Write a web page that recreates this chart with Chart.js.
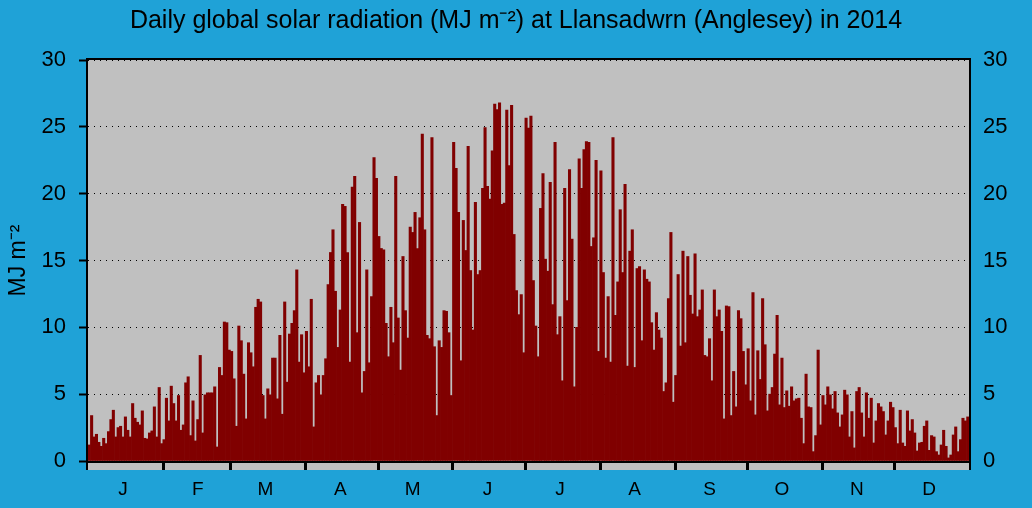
<!DOCTYPE html>
<html>
<head>
<meta charset="utf-8">
<script src="https://cdn.jsdelivr.net/npm/chart.js@4.4.1/dist/chart.umd.min.js"></script>
<style>
  html, body { margin: 0; padding: 0; background: #1fa2d7; }
  #wrap { width: 1032px; height: 508px; }
</style>
</head>
<body>
<div id="wrap"><canvas id="c" width="1032" height="508"></canvas></div>
<script>
// Daily global solar radiation (MJ m-2), Llansadwrn 2014, one array per month
const jan = [1.2,3.4,1.8,2.0,1.4,1.1,1.7,1.3,2.2,3.1,3.8,1.8,2.5,2.6,1.8,3.3,2.3,1.8,4.3,3.2,2.9,2.7,3.75,1.7,1.65,2.1,2.25,4.05,1.8,5.5,1.3];
const feb = [1.6,4.7,3.0,5.6,4.3,3.0,4.9,2.3,2.7,5.85,6.3,1.9,4.5,1.5,3.1,7.9,2.1,4.95,5.1,5.1,5.1,5.55,1.05,7.0,6.4,10.4,10.35,8.3];
const mar = [8.2,6.15,2.6,10.1,9.0,6.5,3.15,8.85,8.1,7.05,11.5,12.1,11.9,4.9,3.15,5.4,4.95,7.7,7.7,4.65,9.4,3.5,11.9,5.9,9.5,10.3,11.25,14.3,7.4,9.45,6.6];
const apr = [9.7,7.05,12.1,2.55,5.85,6.4,4.95,6.4,7.65,13.2,15.6,17.3,12.7,8.5,11.3,19.2,19.05,15.6,7.4,20.5,21.3,9.6,17.85,5.1,6.7,14.3,7.35,12.3,22.7,21.15];
const may = [16.8,15.9,15.8,10.3,7.8,11.5,8.85,21.3,10.7,6.8,15.3,11.25,9.2,17.5,17.1,18.6,15.9,18.2,24.45,17.3,9.4,9.15,24.2,8.55,3.4,9.0,8.5,11.25,11.2,9.6,4.9];
const jun = [23.85,21.9,18.6,7.5,18.0,15.75,23.55,14.25,9.8,19.35,13.95,14.25,20.4,24.95,20.55,19.6,23.2,26.7,26.3,26.8,19.2,19.3,26.25,22.1,26.6,16.95,12.75,10.95,12.45,8.1];
const jul = [25.65,24.9,25.8,13.5,10.1,7.8,18.9,21.5,15.1,14.2,20.85,11.7,23.85,9.45,10.8,6.0,20.4,12.0,21.8,16.6,5.55,10.0,22.6,20.4,23.3,23.9,23.85,16.05,16.7,22.5,8.2];
const aug = [21.7,14.1,7.7,12.3,7.4,24.2,10.9,13.4,18.8,14.1,20.7,7.1,15.7,17.3,7.0,14.4,14.55,9.0,14.3,13.6,13.4,10.35,8.3,11.1,9.8,9.2,5.2,5.85,12.15,17.1,4.4];
const sep = [6.4,13.95,8.6,15.7,8.85,15.3,12.4,11.0,15.5,10.8,11.3,12.8,7.9,7.8,9.15,6.0,12.8,10.8,11.3,9.7,3.15,11.6,11.55,3.4,6.7,4.05,11.25,10.65,8.2,5.7];
const oct = [8.4,4.5,12.6,3.45,8.25,6.1,12.15,8.7,3.75,5.0,5.5,8.0,10.9,4.2,7.7,4.0,5.25,4.1,5.55,4.5,4.65,4.7,3.2,1.3,6.5,4.05,4.0,0.7,1.9,8.3,2.7];
const nov = [4.9,4.2,5.55,4.95,3.9,5.2,3.6,2.55,3.45,5.3,4.95,1.8,3.7,0.98,5.2,5.5,3.6,1.8,5.1,3.2,4.7,1.35,3.0,4.3,4.05,3.7,1.95,3.0,4.4,4.0];
const dec = [2.5,1.3,3.8,1.35,1.1,3.75,2.25,3.1,2.1,0.75,1.35,1.4,2.6,3.0,0.8,1.9,1.8,0.7,0.45,1.2,2.3,1.1,0.23,0.45,1.95,2.55,0.7,1.6,3.2,3.0,3.3];

const monthLetters = ['J','F','M','A','M','J','J','A','S','O','N','D'];
const monthDays = [31,28,31,30,31,30,31,31,30,31,30,31];
const yTicks = [0,5,10,15,20,25,30];

const months = [jan,feb,mar,apr,may,jun,jul,aug,sep,oct,nov,dec];
const values = [].concat(...months);
const dayLabels = values.map((_, i) => i + 1);

// tick index -> month letter (near mid-month)
const midLabel = {};
let acc = 0;
monthDays.forEach((n, m) => { midLabel[acc + 14] = monthLetters[m]; acc += n; });

const FONT = "'Liberation Sans', Arial, sans-serif";

const framePlugin = {
  id: 'frame',
  beforeDraw(chart) {
    const {ctx, chartArea: a} = chart;
    ctx.save();
    ctx.fillStyle = '#1fa2d7';
    ctx.fillRect(0, 0, chart.width, chart.height);
    ctx.fillStyle = '#c0c0c0';
    ctx.fillRect(a.left, a.top, a.right - a.left, a.bottom - a.top);
    ctx.restore();
  },
  afterDraw(chart) {
    const {ctx, chartArea: a, scales} = chart;
    const x = scales.x;
    const w = x.getPixelForValue(1) - x.getPixelForValue(0);
    ctx.save();
    ctx.fillStyle = '#c0c0c0';
    ctx.fillRect(a.left, a.bottom, a.right - a.left, 9);
    ctx.fillStyle = '#000';
    let s = 0;
    for (let m = 0; m < 11; m++) {
      s += monthDays[m];
      const px = Math.round(x.getPixelForValue(s) - w / 2);
      ctx.fillRect(px - 1, a.bottom, 3, 9);
    }
    ctx.fillRect(a.left - 2, a.bottom, 2, 9);
    ctx.fillRect(a.right, a.bottom, 2, 9);
    ctx.strokeStyle = '#000';
    ctx.lineWidth = 2;
    ctx.strokeRect(a.left - 1, a.top - 1, a.right - a.left + 2, a.bottom - a.top + 2);
    ctx.restore();
  }
};

new Chart(document.getElementById('c'), {
  type: 'bar',
  data: {
    labels: dayLabels,
    datasets: [{
      data: values,
      backgroundColor: '#800000',
      borderWidth: 0,
      barPercentage: 1,
      categoryPercentage: 1
    }]
  },
  plugins: [framePlugin],
  options: {
    responsive: false,
    devicePixelRatio: 1,
    animation: false,
    layout: { padding: 0 },
    plugins: {
      legend: { display: false },
      tooltip: { enabled: false },
      title: {
        display: true,
        text: 'Daily global solar radiation (MJ m⁻²) at Llansadwrn (Anglesey) in 2014',
        color: '#000',
        font: { family: FONT, size: 25, weight: 'normal', lineHeight: 1.2 },
        padding: { top: 6, bottom: 24 }
      }
    },
    scales: {
      x: {
        type: 'category',
        grid: { display: false, drawTicks: false },
        border: { display: false },
        ticks: {
          autoSkip: false,
          maxRotation: 0,
          minRotation: 0,
          padding: 17,
          color: '#000',
          font: { family: FONT, size: 19 },
          callback: (v, i) => midLabel[i] || ''
        },
        afterFit: s => { s.height = 47; }
      },
      y: {
        position: 'left',
        min: 0,
        max: 30,
        afterBuildTicks: s => { s.ticks = yTicks.map(v => ({value: v})); },
        grid: {
          color: '#000',
          lineWidth: 1,
          drawTicks: true,
          tickLength: 9,
          tickWidth: 2,
          tickColor: '#000',
          tickBorderDash: []
        },
        border: { display: false, dash: [1, 5] },
        ticks: {
          padding: 13,
          color: '#000',
          font: { family: FONT, size: 22 }
        },
        title: {
          display: true,
          text: 'MJ m⁻²',
          color: '#000',
          font: { family: FONT, size: 23 },
          padding: { top: 5, bottom: 0 }
        },
        afterFit: s => { s.width = 88; }
      },
      y2: {
        position: 'right',
        min: 0,
        max: 30,
        afterBuildTicks: s => { s.ticks = yTicks.map(v => ({value: v})); },
        grid: { display: false, drawTicks: false },
        border: { display: false },
        ticks: {
          padding: 14,
          color: '#000',
          font: { family: FONT, size: 22 }
        },
        afterFit: s => { s.width = 63; }
      }
    }
  }
});
</script>
</body>
</html>
